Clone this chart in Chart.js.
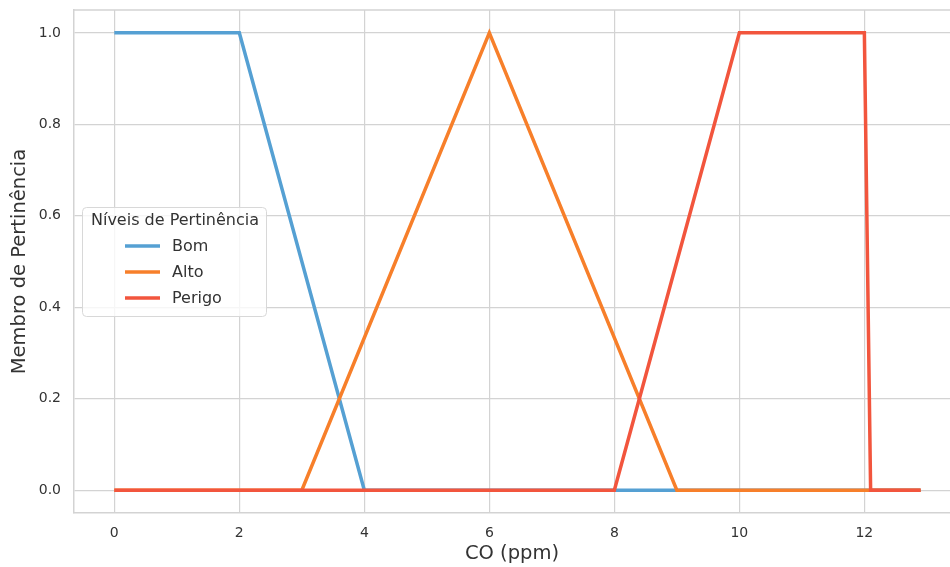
<!DOCTYPE html>
<html>
<head>
<meta charset="utf-8">
<script src="https://cdn.jsdelivr.net/npm/chart.js@4"></script>
<style>
  body { margin: 0; background: #fff; }
  #wrap { width: 950px; height: 567px; }
</style>
</head>
<body>
<div id="wrap"><canvas id="myChart" width="950" height="567"></canvas></div>
<script>
// membership functions
var bomX = [0, 2, 4, 12.9];
var bomY = [1, 1, 0, 0];
var altoX = [0, 3, 6, 9, 12.9];
var altoY = [0, 0, 1, 0, 0];
var perigoX = [0, 8, 10, 12, 12.1, 12.9];
var perigoY = [0, 0, 1, 1, 0, 0];

var seriesNames = ["Bom", "Alto", "Perigo"];
var seriesColors = ["#55a0d3", "#f77f2a", "#f2553d"];
var xTicks = [0, 2, 4, 6, 8, 10, 12];
var yTicks = [0, 0.2, 0.4, 0.6, 0.8, 1.0];

function pts(xs, ys) {
  var out = [];
  for (var i = 0; i < xs.length; i++) out.push({ x: xs[i], y: ys[i] });
  return out;
}

var font = "'DejaVu Sans', sans-serif";
var gridColor = "#d3d3d3";

// top border + legend box inside plot area
var extras = {
  id: "extras",
  beforeDatasetsDraw: function (chart) {
    var ctx = chart.ctx, a = chart.chartArea;
    ctx.save();
    ctx.strokeStyle = gridColor;
    ctx.lineWidth = 1.5;
    ctx.beginPath();
    ctx.moveTo(a.left, a.top);
    ctx.lineTo(a.right, a.top);
    ctx.stroke();
    ctx.restore();
  },
  afterDraw: function (chart) {
    var ctx = chart.ctx;
    var bx = 82, by = 207, bw = 184, bh = 109;
    ctx.save();
    ctx.fillStyle = "rgba(255,255,255,0.8)";
    ctx.strokeStyle = "#d8d8d8";
    ctx.lineWidth = 1;
    ctx.beginPath();
    ctx.roundRect(bx + 0.5, by + 0.5, bw, bh, 4);
    ctx.fill();
    ctx.stroke();
    ctx.fillStyle = "#333";
    ctx.font = "16px " + font;
    ctx.textBaseline = "middle";
    ctx.textAlign = "center";
    ctx.fillText("Níveis de Pertinência", bx + bw / 2 + 1, by + 14);
    ctx.textAlign = "left";
    for (var i = 0; i < seriesNames.length; i++) {
      var yy = by + 39 + i * 26;
      ctx.strokeStyle = seriesColors[i];
      ctx.lineWidth = 3.5;
      ctx.beginPath();
      ctx.moveTo(125, yy);
      ctx.lineTo(160, yy);
      ctx.stroke();
      ctx.fillText(seriesNames[i], 172, yy + 1);
    }
    ctx.restore();
  }
};

new Chart("myChart", {
  type: "line",
  data: {
    datasets: [
      { label: "Bom", data: pts(bomX, bomY), borderColor: seriesColors[0], order: 3 },
      { label: "Alto", data: pts(altoX, altoY), borderColor: seriesColors[1], order: 2 },
      { label: "Perigo", data: pts(perigoX, perigoY), borderColor: seriesColors[2], order: 1 }
    ]
  },
  options: {
    responsive: false,
    animation: false,
    layout: { padding: { top: 10, left: 0, right: 0, bottom: 0 } },
    elements: {
      line: { borderWidth: 3.5, tension: 0, fill: false, borderJoinStyle: "miter" },
      point: { radius: 0 }
    },
    plugins: { legend: { display: false }, tooltip: { enabled: false } },
    scales: {
      x: {
        type: "linear",
        min: -0.645,
        max: 13.37,
        afterBuildTicks: function (s) { s.ticks = xTicks.map(function (v) { return { value: v }; }); },
        afterFit: function (s) { s.height = 54; s.paddingLeft = 0; s.paddingRight = 0; },
        grid: { color: gridColor, lineWidth: 1.2, drawTicks: false },
        border: { color: gridColor, width: 1.5 },
        ticks: { color: "#333", font: { family: font, size: 14 }, padding: 12,
          callback: function (v) { return v; } },
        title: { display: true, text: "CO (ppm)", color: "#333",
          font: { family: font, size: 19.5 }, padding: { top: 0, bottom: 1 } }
      },
      y: {
        min: -0.05,
        max: 1.05,
        afterBuildTicks: function (s) { s.ticks = yTicks.map(function (v) { return { value: v }; }); },
        afterFit: function (s) { s.width = 74; s.paddingTop = 0; s.paddingBottom = 0; },
        grid: { color: gridColor, lineWidth: 1.2, drawTicks: false },
        border: { color: gridColor, width: 1.5 },
        ticks: { color: "#333", font: { family: font, size: 14 }, padding: 13,
          callback: function (v) { return v.toFixed(1); } },
        title: { display: true, text: "Membro de Pertinência", color: "#333",
          font: { family: font, size: 19.5 }, padding: { top: 8, bottom: 4 } }
      }
    }
  },
  plugins: [extras]
});
</script>
</body>
</html>
